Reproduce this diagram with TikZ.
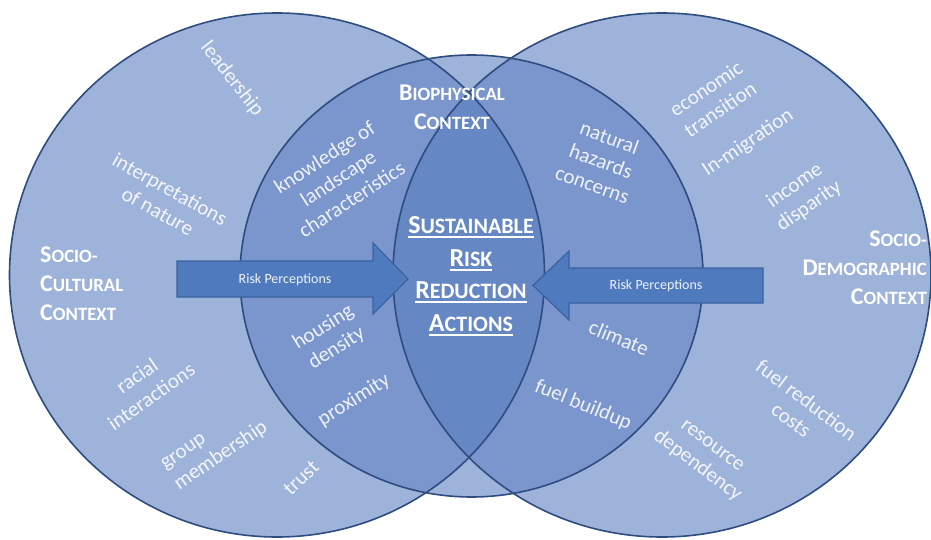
\documentclass[tikz,border=0pt]{standalone}
\usepackage{fontspec}
\setmainfont{Carlito}
\definecolor{cLight}{HTML}{9EB3D9}
\definecolor{cDbl}{HTML}{7A96CC}
\definecolor{cTri}{HTML}{6587C3}
\definecolor{cBorder}{HTML}{2E4C80}
\definecolor{cArrow}{HTML}{4F7BBE}
\definecolor{cArrowB}{HTML}{3A62A0}
\newcommand\SCt[2]{{\fontsize{24}{29}\selectfont#1\fontsize{18.8}{29}\selectfont#2}}
\newcommand\ulbox[1]{\leavevmode\setbox0\hbox{#1}\rlap{\rule[-4.5pt]{\wd0}{1.8pt}}\box0}
\newcommand\SCc[2]{\ulbox{\fontsize{26}{32.5}\selectfont#1\fontsize{22}{32.5}\selectfont#2}}
\begin{document}
\begin{tikzpicture}[x=1pt,y=-1pt,
  item/.style={text=white, text opacity=0.88, font=\fontsize{21}{25}\selectfont, align=center, inner sep=0pt},
  title/.style={text=white, font=\bfseries\fontsize{24}{29}\selectfont, inner sep=0pt},
  border/.style={draw=cBorder, line width=1.6pt},
  arrowshape/.style={fill=cArrow, draw=cArrowB, line width=1.2pt, line join=miter},
  rp/.style={text=white, text opacity=0.9, font=\fontsize{14}{16}\selectfont, inner sep=0pt}]
\useasboundingbox (0,0) rectangle (931,540);
% fills
\fill[cLight] (277,275) ellipse [x radius=267.5pt, y radius=262pt];
\fill[cLight] (662,275) ellipse [x radius=269pt, y radius=262pt];
\fill[cLight] (471.5,276) ellipse [x radius=231.5pt, y radius=221pt];
\begin{scope}
  \clip (277,275) ellipse [x radius=267.5pt, y radius=262pt];
  \fill[cDbl] (471.5,276) ellipse [x radius=231.5pt, y radius=221pt];
\end{scope}
\begin{scope}
  \clip (662,275) ellipse [x radius=269pt, y radius=262pt];
  \fill[cDbl] (471.5,276) ellipse [x radius=231.5pt, y radius=221pt];
\end{scope}
\begin{scope}
  \clip (277,275) ellipse [x radius=267.5pt, y radius=262pt];
  \fill[cTri] (662,275) ellipse [x radius=269pt, y radius=262pt];
\end{scope}
% borders
\draw[border] (277,275) ellipse [x radius=267.5pt, y radius=262pt];
\draw[border] (662,275) ellipse [x radius=269pt, y radius=262pt];
\draw[border] (471.5,276) ellipse [x radius=231.5pt, y radius=221pt];
% arrows
\draw[arrowshape] (177,261) -- (373,261) -- (373,243) -- (408,279) -- (373,314) -- (373,297) -- (177,297) -- cycle;
\node[rp] (rpL) at (285,280) {Risk Perceptions};
\draw[arrowshape] (763,268) -- (569,268) -- (569,251) -- (533,285.5) -- (569,320) -- (569,303) -- (763,303) -- cycle;
\node[rp] (rpR) at (656,286) {Risk Perceptions};
% titles
\node[title, anchor=west, align=left] (sc) at (40,284) {\SCt{S}{OCIO-}\\\SCt{C}{ULTURAL}\\\SCt{C}{ONTEXT}};
\node[title, anchor=east, align=right] (sd) at (927,268) {\SCt{S}{OCIO-}\\\SCt{D}{EMOGRAPHIC}\\\SCt{C}{ONTEXT}};
\node[title, align=center] (bp) at (452,107) {\SCt{B}{IOPHYSICAL}\\\SCt{C}{ONTEXT}};
\node[title, align=center, font=\bfseries\fontsize{26}{32.5}\selectfont] (srra) at (471,276)
  {\SCc{S}{USTAINABLE}\\\SCc{R}{ISK}\\\SCc{R}{EDUCTION}\\\SCc{A}{CTIONS}};
% left circle items
\node[item, rotate=-52] (lead) at (232,79) {leadership};
\node[item, rotate=-29] (interp) at (164,200) {interpretations\\of nature};
\node[item, rotate=35] (racial) at (144,386) {racial\\interactions};
\node[item, rotate=34, align=left] (group) at (215,447) {group\\membership};
\node[item, rotate=44] (trust) at (301,478) {trust};
% left-middle items
\node[item, rotate=33] (know) at (338,178) {knowledge of\\landscape\\characteristics};
\node[item, rotate=32] (hous) at (330,338) {housing\\density};
\node[item, rotate=32] (prox) at (354,400) {proximity};
% right-middle items
\node[item, rotate=-20] (nat) at (601,161) {natural\\hazards\\concerns};
\node[item, rotate=-22] (clim) at (619,338) {climate};
\node[item, rotate=-22] (fuelb) at (583,405) {fuel buildup};
% right circle items
\node[item, rotate=34] (econ) at (713,99) {economic\\transition};
\node[item, rotate=34] (inmig) at (748,143) {In-migration};
\node[item, rotate=35] (inc) at (802,196) {income\\disparity};
\node[item, rotate=-37] (fuelr) at (799,410) {fuel reduction\\costs};
\node[item, rotate=-37] (res) at (704,457) {resource\\dependency};
\end{tikzpicture}
\end{document}
